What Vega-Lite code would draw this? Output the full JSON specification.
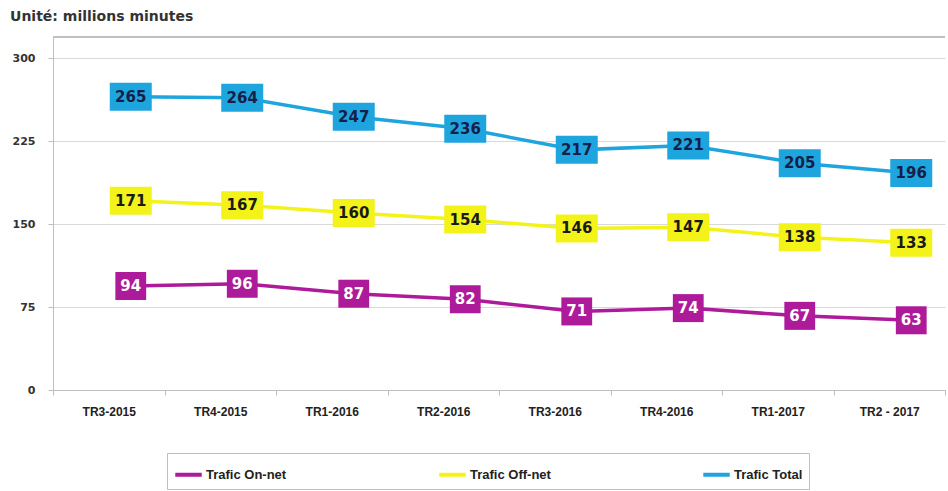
{
  "$schema": "https://vega.github.io/schema/vega-lite/v6.json",
  "width": 892,
  "height": 353,
  "autosize": {"type": "none"},
  "padding": {"left": 53, "top": 37, "right": 3, "bottom": 101},
  "background": "white",
  "title": {
    "text": "Unité: millions minutes",
    "anchor": "start",
    "frame": "bounds",
    "dx": -2,
    "offset": 13,
    "font": "DejaVu Sans",
    "fontSize": 14,
    "fontWeight": "bold",
    "color": "#333333"
  },
  "config": {
    "view": {"stroke": null},
    "legend": {
      "orient": "none",
      "legendX": 114,
      "legendY": 416,
      "direction": "horizontal",
      "title": null,
      "gridAlign": "all",
      "columnPadding": 144,
      "symbolType": "stroke",
      "symbolStrokeWidth": 4,
      "symbolSize": 700,
      "labelFont": "Liberation Sans",
      "labelFontSize": 13,
      "labelFontWeight": "bold",
      "labelColor": "#222222",
      "labelOffset": 2,
      "strokeColor": "#bfbfbf",
      "padding": 6
    }
  },
  "data": {
    "values": [
      {"period": "TR3-2015", "series": "Trafic Total", "value": 265},
      {"period": "TR4-2015", "series": "Trafic Total", "value": 264},
      {"period": "TR1-2016", "series": "Trafic Total", "value": 247},
      {"period": "TR2-2016", "series": "Trafic Total", "value": 236},
      {"period": "TR3-2016", "series": "Trafic Total", "value": 217},
      {"period": "TR4-2016", "series": "Trafic Total", "value": 221},
      {"period": "TR1-2017", "series": "Trafic Total", "value": 205},
      {"period": "TR2 - 2017", "series": "Trafic Total", "value": 196},
      {"period": "TR3-2015", "series": "Trafic Off-net", "value": 171},
      {"period": "TR4-2015", "series": "Trafic Off-net", "value": 167},
      {"period": "TR1-2016", "series": "Trafic Off-net", "value": 160},
      {"period": "TR2-2016", "series": "Trafic Off-net", "value": 154},
      {"period": "TR3-2016", "series": "Trafic Off-net", "value": 146},
      {"period": "TR4-2016", "series": "Trafic Off-net", "value": 147},
      {"period": "TR1-2017", "series": "Trafic Off-net", "value": 138},
      {"period": "TR2 - 2017", "series": "Trafic Off-net", "value": 133},
      {"period": "TR3-2015", "series": "Trafic On-net", "value": 94},
      {"period": "TR4-2015", "series": "Trafic On-net", "value": 96},
      {"period": "TR1-2016", "series": "Trafic On-net", "value": 87},
      {"period": "TR2-2016", "series": "Trafic On-net", "value": 82},
      {"period": "TR3-2016", "series": "Trafic On-net", "value": 71},
      {"period": "TR4-2016", "series": "Trafic On-net", "value": 74},
      {"period": "TR1-2017", "series": "Trafic On-net", "value": 67},
      {"period": "TR2 - 2017", "series": "Trafic On-net", "value": 63}
    ]
  },
  "encoding": {
    "x": {
      "field": "period",
      "type": "ordinal",
      "sort": ["TR3-2015", "TR4-2015", "TR1-2016", "TR2-2016", "TR3-2016", "TR4-2016", "TR1-2017", "TR2 - 2017"],
      "scale": {"type": "band", "paddingInner": 0, "paddingOuter": 0},
      "bandPosition": 0.5,
      "title": null,
      "axis": {
        "labelAngle": 0,
        "labelFont": "Liberation Sans",
        "labelFontSize": 12,
        "labelFontWeight": "bold",
        "labelColor": "#222222",
        "labelPadding": 11,
        "tickBand": "extent",
        "tickSize": 5,
        "tickColor": "#bfbfbf",
        "domainColor": "#bfbfbf",
        "grid": false
      }
    },
    "y": {
      "field": "value",
      "type": "quantitative",
      "scale": {"domain": [0, 319], "nice": false},
      "title": null,
      "axis": {
        "values": [0, 75, 150, 225, 300],
        "labelFont": "DejaVu Sans",
        "labelFontSize": 11,
        "labelFontWeight": "bold",
        "labelColor": "#333333",
        "labelPadding": 13,
        "tickSize": 5,
        "tickColor": "#bfbfbf",
        "domainColor": "#bfbfbf",
        "gridColor": "#d9d9d9"
      }
    },
    "color": {
      "field": "series",
      "type": "nominal",
      "scale": {
        "domain": ["Trafic On-net", "Trafic Off-net", "Trafic Total"],
        "range": ["#ad1a9a", "#f3f31a", "#1fa5dd"]
      }
    }
  },
  "layer": [
    {
      "mark": {"type": "rule", "color": "#bfbfbf"},
      "encoding": {"y": {"datum": 319}, "x": null, "color": null}
    },
    {
      "mark": {"type": "line", "strokeWidth": 3.5, "xOffset": 22}
    },
    {
      "mark": {"type": "point", "filled": true, "opacity": 1, "size": 784, "xOffset": 22},
      "encoding": {
        "shape": {
          "condition": {"test": "datum.value < 100", "value": "M-1.1,-1L1.1,-1L1.1,1L-1.1,1Z"},
          "value": "M-1.5,-1L1.5,-1L1.5,1L-1.5,1Z"
        }
      }
    },
    {
      "mark": {"type": "text", "font": "DejaVu Sans", "fontSize": 15, "fontWeight": "bold", "xOffset": 22},
      "encoding": {
        "text": {"field": "value", "type": "quantitative"},
        "color": {
          "condition": [
            {"test": "datum.series === 'Trafic On-net'", "value": "#ffffff"},
            {"test": "datum.series === 'Trafic Total'", "value": "#14204a"}
          ],
          "value": "#1a1a1a"
        }
      }
    }
  ]
}
